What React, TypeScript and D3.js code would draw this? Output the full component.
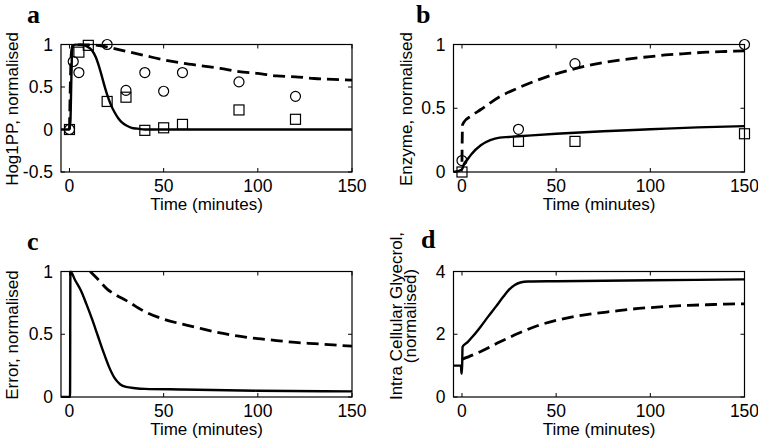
import React from 'react';
import * as d3 from 'd3';

// ---------- shared ----------
const X_DOMAIN: [number, number] = [-4.5, 150];
const X_TICKS = [0, 50, 100, 150];
const X_LABEL = 'Time (minutes)';

// ---------- panel a : Hog1PP ----------
const aSolidT = [-4.5, 0, 0.5, 1, 1.5, 3, 6, 9, 12, 14, 16, 18, 20, 22, 24, 26, 28, 30, 33, 36, 40, 60, 100, 150];
const aSolidY = [0, 0, 0.1, 0.6, 0.97, 1, 1, 0.98, 0.93, 0.85, 0.72, 0.56, 0.41, 0.29, 0.2, 0.13, 0.08, 0.05, 0.02, 0.01, 0, 0, 0, 0];
const aDashT = [0, 1, 2, 10, 15, 20, 30, 40, 50, 60, 70, 80, 90, 100, 110, 120, 130, 140, 150];
const aDashY = [0, 0.9, 1, 1, 0.99, 0.97, 0.92, 0.87, 0.82, 0.78, 0.75, 0.72, 0.68, 0.66, 0.63, 0.62, 0.6, 0.59, 0.58];
const aCircT = [0, 2, 5, 20, 30, 40, 50, 60, 90, 120];
const aCircY = [0, 0.8, 0.67, 1.0, 0.46, 0.67, 0.45, 0.67, 0.56, 0.39];
const aSqT = [0, 5, 10, 20, 30, 40, 50, 60, 90, 120];
const aSqY = [0, 0.91, 0.99, 0.33, 0.38, -0.01, 0.02, 0.06, 0.23, 0.12];
const aYTicks = [-0.5, 0, 0.5, 1];
const aYTickLabels = ['-0.5', '0', '0.5', '1'];

// ---------- panel b : Enzyme ----------
const bSolidT = [-4.5, 0, 1, 3, 5, 10, 15, 20, 25, 30, 50, 75, 100, 125, 150];
const bSolidY = [0, 0.02, 0.06, 0.1, 0.14, 0.21, 0.25, 0.27, 0.275, 0.28, 0.3, 0.32, 0.335, 0.35, 0.36];
const bDashT = [0, 0.3, 1, 5, 10, 20, 30, 40, 50, 60, 70, 80, 90, 100, 110, 120, 130, 140, 150];
const bDashY = [0.08, 0.37, 0.39, 0.44, 0.49, 0.59, 0.66, 0.72, 0.77, 0.81, 0.845, 0.87, 0.89, 0.905, 0.92, 0.93, 0.94, 0.945, 0.95];
const bCircT = [0, 30, 60, 150];
const bCircY = [0.09, 0.335, 0.85, 1.0];
const bSqT = [0, 30, 60, 150];
const bSqY = [0, 0.24, 0.24, 0.3];
const bYTicks = [0, 0.5, 1];
const bYTickLabels = ['0', '0.5', '1'];

// ---------- panel c : Error ----------
const cSolidT = [-4.5, 0.3, 0.5, 3, 6, 9, 12, 15, 18, 21, 24, 27, 30, 35, 40, 60, 100, 150];
const cSolidY = [0, 0, 1, 0.93, 0.85, 0.74, 0.62, 0.49, 0.36, 0.24, 0.15, 0.1, 0.08, 0.07, 0.065, 0.06, 0.05, 0.045];
const cDashT = [11, 15, 20, 25, 30, 40, 50, 60, 70, 80, 90, 100, 110, 120, 130, 140, 150];
const cDashY = [1, 0.94, 0.86, 0.81, 0.77, 0.68, 0.62, 0.58, 0.545, 0.51, 0.485, 0.465, 0.45, 0.435, 0.425, 0.415, 0.405];
const cYTicks = [0, 0.5, 1];
const cYTickLabels = ['0', '0.5', '1'];

// ---------- panel d : Glycerol ----------
const dSolidT = [-4.5, -0.5, -0.3, 0, 0.3, 3, 6, 10, 14, 18, 22, 25, 28, 31, 35, 50, 100, 150];
const dSolidY = [1, 1, 0.75, 0.75, 1.6, 1.75, 1.95, 2.25, 2.57, 2.88, 3.2, 3.42, 3.57, 3.65, 3.68, 3.69, 3.72, 3.75];
const dDashT = [0, 10, 20, 30, 40, 50, 60, 70, 80, 90, 100, 110, 120, 130, 140, 150];
const dDashY = [1.2, 1.45, 1.75, 2.03, 2.27, 2.44, 2.57, 2.66, 2.73, 2.8, 2.85, 2.89, 2.92, 2.94, 2.96, 2.97];
const dYTicks = [0, 2, 4];
const dYTickLabels = ['0', '2', '4'];

type Pt = [number, number];
const zip = (t: number[], y: number[]): Pt[] => t.map((v, i) => [v, y[i]]);

interface PanelDef {
  id: string;
  letter: string;
  box: { left: number; right: number; top: number; bottom: number };
  letterPos: [number, number];
  yDomain: [number, number];
  yTicks: number[];
  yTickLabels: string[];
  yLabel: string[];
  yLabelX: number[];
  yLabelY: number;
  solid: Pt[];
  dash: Pt[];
  circles: Pt[];
  squares: Pt[];
}

const panels: PanelDef[] = [
  {
    id: 'a', letter: 'a',
    box: { left: 61, right: 352, top: 44.5, bottom: 172 },
    letterPos: [27, 23],
    yDomain: [-0.5, 1], yTicks: aYTicks, yTickLabels: aYTickLabels,
    yLabel: ['Hog1PP, normalised'], yLabelX: [18], yLabelY: 109,
    solid: zip(aSolidT, aSolidY), dash: zip(aDashT, aDashY),
    circles: zip(aCircT, aCircY), squares: zip(aSqT, aSqY),
  },
  {
    id: 'b', letter: 'b',
    box: { left: 453.5, right: 744.5, top: 44.5, bottom: 172 },
    letterPos: [416, 23],
    yDomain: [0, 1], yTicks: bYTicks, yLabel: ['Enzyme, normalised'], yTickLabels: bYTickLabels,
    yLabelX: [412], yLabelY: 109,
    solid: zip(bSolidT, bSolidY), dash: zip(bDashT, bDashY),
    circles: zip(bCircT, bCircY), squares: zip(bSqT, bSqY),
  },
  {
    id: 'c', letter: 'c',
    box: { left: 61, right: 352, top: 271.5, bottom: 397 },
    letterPos: [27, 250],
    yDomain: [0, 1], yTicks: cYTicks, yTickLabels: cYTickLabels,
    yLabel: ['Error, normalised'], yLabelX: [18], yLabelY: 335,
    solid: zip(cSolidT, cSolidY), dash: zip(cDashT, cDashY),
    circles: [], squares: [],
  },
  {
    id: 'd', letter: 'd',
    box: { left: 453.5, right: 744.5, top: 271.5, bottom: 397 },
    letterPos: [421, 248],
    yDomain: [0, 4], yTicks: dYTicks, yTickLabels: dYTickLabels,
    yLabel: ['Intra Cellular Glyecrol,', '(normalised)'], yLabelX: [402, 416], yLabelY: 316,
    solid: zip(dSolidT, dSolidY), dash: zip(dDashT, dDashY),
    circles: [], squares: [],
  },
];

const FONT = "'Liberation Sans', Arial, Helvetica, sans-serif";
const TICK = 4;

function Panel({ p }: { p: PanelDef }) {
  const { left, right, top, bottom } = p.box;
  const x = d3.scaleLinear().domain(X_DOMAIN).range([left, right]);
  const y = d3.scaleLinear().domain(p.yDomain).range([bottom, top]);
  const line = d3.line<Pt>().x(d => x(d[0])).y(d => y(d[1])).curve(d3.curveMonotoneX);
  const clipId = `clip-${p.id}`;
  const cx = (left + right) / 2;
  return (
    <g>
      <defs>
        <clipPath id={clipId}>
          <rect x={left} y={top - 1} width={right - left} height={bottom - top + 2} />
        </clipPath>
      </defs>
      <text x={p.letterPos[0]} y={p.letterPos[1]} fontFamily="'Liberation Serif', 'Times New Roman', serif" fontWeight="bold" fontSize={26}>{p.letter}</text>
      <g clipPath={`url(#${clipId})`}>
        <path d={line(p.solid) || ''} fill="none" stroke="#000" strokeWidth={2.4} strokeLinejoin="round" />
        <path d={line(p.dash) || ''} fill="none" stroke="#000" strokeWidth={2.8} strokeDasharray="12,6" />
      </g>
      {p.circles.map((d, i) => (
        <circle key={`c${i}`} cx={x(d[0])} cy={y(d[1])} r={5} fill="none" stroke="#000" strokeWidth={1.2} />
      ))}
      {p.squares.map((d, i) => (
        <rect key={`s${i}`} x={x(d[0]) - 5} y={y(d[1]) - 5} width={10} height={10} fill="none" stroke="#000" strokeWidth={1.2} />
      ))}
      <rect x={left} y={top} width={right - left} height={bottom - top} fill="none" stroke="#000" strokeWidth={1.2} />
      {X_TICKS.map(t => (
        <g key={`xt${t}`}>
          <line x1={x(t)} x2={x(t)} y1={bottom} y2={bottom - TICK} stroke="#000" strokeWidth={1} />
          <line x1={x(t)} x2={x(t)} y1={top} y2={top + TICK} stroke="#000" strokeWidth={1} />
          <text x={x(t)} y={bottom + 19.5} textAnchor="middle" fontFamily={FONT} fontSize={17.5}>{t}</text>
        </g>
      ))}
      {p.yTicks.map((t, i) => (
        <g key={`yt${t}`}>
          <line x1={left} x2={left + TICK} y1={y(t)} y2={y(t)} stroke="#000" strokeWidth={1} />
          <line x1={right} x2={right - TICK} y1={y(t)} y2={y(t)} stroke="#000" strokeWidth={1} />
          <text x={left - 8} y={y(t) + 6} textAnchor="end" fontFamily={FONT} fontSize={17.5}>{p.yTickLabels[i]}</text>
        </g>
      ))}
      <text x={cx} y={bottom + 38} textAnchor="middle" fontFamily={FONT} fontSize={17}>{X_LABEL}</text>
      {p.yLabel.map((s, i) => (
        <text key={`yl${i}`} transform={`translate(${p.yLabelX[i]},${p.yLabelY}) rotate(-90)`} textAnchor="middle" fontFamily={FONT} fontSize={17}>{s}</text>
      ))}
    </g>
  );
}

export default function App() {
  return (
    <svg width={758} height={446} style={{ position: 'absolute', left: 0, top: 0, background: '#fff' }}>
      <rect width={758} height={446} fill="#fff" />
      {panels.map(p => <Panel key={p.id} p={p} />)}
    </svg>
  );
}
